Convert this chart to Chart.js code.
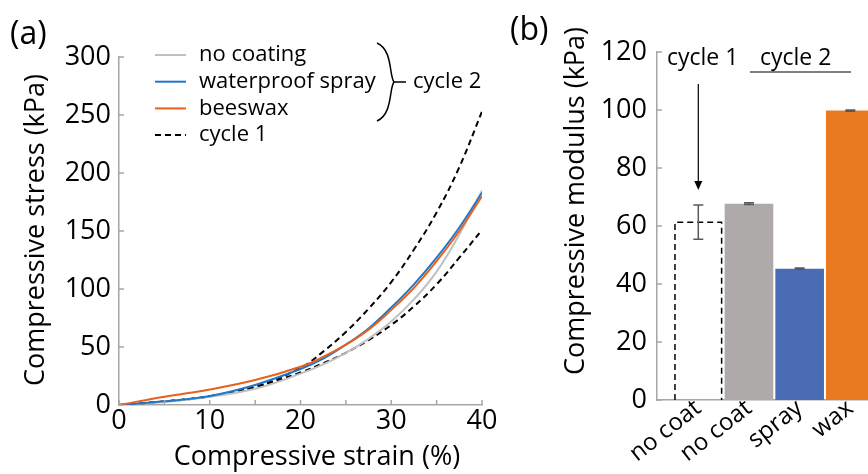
<!DOCTYPE html>
<html>
<head>
<meta charset="utf-8">
<script src="https://cdn.jsdelivr.net/npm/chart.js@4.4.0/dist/chart.umd.min.js"></script>
<style>
  html, body { margin: 0; padding: 0; background: #fff; overflow: hidden; width: 868px; height: 474px; }
  #chartA { position: absolute; left: 0; top: 0; }
  #chartB { position: absolute; left: 500px; top: 0; }
</style>
</head>
<body>
<canvas id="chartA" width="510" height="474"></canvas>
<canvas id="chartB" width="420" height="474"></canvas>
<script>
// (a) stress-strain curves
const strain      = [0, 5, 10, 15, 20, 22.5, 25, 27.5, 30, 32.5, 35, 37.5, 40];
const noCoating   = [0, 2.5, 7, 14, 27, 35, 45, 57, 72, 91, 115, 147, 185];
const spray       = [0, 3.2, 7.8, 17.3, 31, 40, 52, 66, 84, 104, 127, 153, 183];
const beeswax     = [0, 7.2, 13.4, 21.5, 33, 41.5, 52, 65, 82, 101, 124, 150, 180];
const cycle1Upper = [0, 3, 7.5, 15.5, 32, 46, 63, 83, 106, 134, 166, 205, 253];
const cycle1Lower = [0, 3, 7.5, 15.5, 28, 36, 45, 56, 69, 85, 104, 127, 151];

// (b) compressive modulus
const modulusLabels = ['no coat', 'no coat', 'spray', 'wax'];
const modulus       = [61.3, 67.7, 45.3, 99.8];
const modulusErr    = [5.9, 0.3, 0.2, 0.2];

const FONT = 'Open Sans';
const AXIS = '#a6a6a6';

function pts(xs, ys) {
  return xs.map((x, i) => ({ x: x, y: ys[i] }));
}

// keep the plot area fixed, no room reserved for edge labels
function noEdgePad(s) {
  s.paddingLeft = 0;
  s.paddingRight = 0;
}

// short tick marks drawn inside the plot
function innerTicks(chart, axis, step, len) {
  const s = chart.scales[axis];
  const ctx = chart.ctx;
  ctx.save();
  ctx.strokeStyle = AXIS;
  ctx.lineWidth = 1.5;
  ctx.beginPath();
  for (let v = Math.max(s.min, 0); v <= s.max + 1e-9; v += step) {
    const p = s.getPixelForValue(v);
    if (axis === 'x') {
      ctx.moveTo(p, s.top); ctx.lineTo(p, s.top - len);
    } else {
      ctx.moveTo(s.right, p); ctx.lineTo(s.right + len, p);
    }
  }
  ctx.stroke();
  ctx.restore();
}

function text(ctx, str, x, y, size, align, rot) {
  ctx.save();
  ctx.font = size + 'px "' + FONT + '"';
  ctx.fillStyle = '#000';
  ctx.textAlign = align || 'left';
  ctx.textBaseline = 'middle';
  ctx.translate(x, y);
  if (rot) ctx.rotate(rot);
  ctx.fillText(str, 0, 0);
  ctx.restore();
}

const decorA = {
  id: 'decorA',
  afterDraw(chart) {
    const ctx = chart.ctx;
    innerTicks(chart, 'x', 5, 5);
    innerTicks(chart, 'y', 50, 5);
    text(ctx, '(a)', 10, 35, 32);
    text(ctx, 'Compressive stress (kPa)', 36, 230, 27, 'center', -Math.PI / 2);
    text(ctx, 'Compressive strain (%)', 317, 457, 27, 'center');

    // legend
    const rows = [
      ['no coating', '#c0c0c0', []],
      ['waterproof spray', '#1f77c9', []],
      ['beeswax', '#e8601c', []],
      ['cycle 1', '#000', [6, 4]]
    ];
    rows.forEach((r, i) => {
      const y = 55 + i * 26.7;
      ctx.save();
      ctx.strokeStyle = r[1];
      ctx.lineWidth = 2;
      ctx.setLineDash(r[2]);
      ctx.beginPath();
      ctx.moveTo(155, y); ctx.lineTo(186, y);
      ctx.stroke();
      ctx.restore();
      text(ctx, r[0], 199, y, 22);
    });

    // brace
    ctx.save();
    ctx.strokeStyle = '#000';
    ctx.lineWidth = 1.5;
    ctx.beginPath();
    ctx.moveTo(377, 43);
    ctx.bezierCurveTo(393, 50, 389, 76, 394, 82);
    ctx.bezierCurveTo(389, 88, 393, 114, 377, 121);
    ctx.moveTo(394, 82); ctx.lineTo(406, 82);
    ctx.stroke();
    ctx.restore();
    text(ctx, 'cycle 2', 413, 82, 22);
  }
};

new Chart(document.getElementById('chartA'), {
  type: 'line',
  data: {
    datasets: [
      { label: 'beeswax', data: pts(strain, beeswax), borderColor: '#e8601c' },
      { label: 'waterproof spray', data: pts(strain, spray), borderColor: '#1f77c9' },
      { label: 'no coating', data: pts(strain, noCoating), borderColor: '#c0c0c0' },
      { label: 'cycle 1', data: pts(strain, cycle1Upper), borderColor: '#000', borderDash: [6, 4] },
      { label: 'cycle 1', data: pts(strain, cycle1Lower), borderColor: '#000', borderDash: [6, 4] }
    ]
  },
  options: {
    responsive: false,
    animation: false,
    elements: {
      point: { radius: 0 },
      line: { borderWidth: 2, tension: 0.4, fill: false }
    },
    layout: { padding: { left: 0, right: 28, top: 57, bottom: 0 } },
    plugins: { legend: { display: false }, tooltip: { enabled: false } },
    scales: {
      x: {
        type: 'linear', min: 0, max: 40,
        afterFit: s => { s.height = 69; noEdgePad(s); },
        ticks: { stepSize: 10, color: '#000', font: { family: FONT, size: 27 }, padding: 0, maxRotation: 0 },
        grid: { display: false, drawTicks: false },
        border: { color: AXIS, width: 1.5 }
      },
      y: {
        min: 0, max: 300,
        afterFit: s => { s.width = 119; },
        ticks: { stepSize: 50, color: '#000', font: { family: FONT, size: 27 }, padding: 8 },
        grid: { display: false, drawTicks: false },
        border: { color: AXIS, width: 1.5 }
      }
    }
  },
  plugins: [decorA]
});

const decorB = {
  id: 'decorB',
  afterDatasetsDraw(chart) {
    const ctx = chart.ctx;
    const ys = chart.scales.y;
    const bars = chart.getDatasetMeta(0).data;

    // dashed outline for the cycle 1 bar
    const b = bars[0];
    const half = b.width / 2;
    ctx.save();
    ctx.strokeStyle = '#000';
    ctx.lineWidth = 1.5;
    ctx.setLineDash([6, 4]);
    ctx.beginPath();
    ctx.moveTo(b.x - half + 1, b.base);
    ctx.lineTo(b.x - half + 1, b.y);
    ctx.lineTo(b.x + half - 1, b.y);
    ctx.lineTo(b.x + half - 1, b.base);
    ctx.stroke();
    ctx.restore();

    // error bars
    ctx.save();
    ctx.strokeStyle = '#595959';
    ctx.lineWidth = 1.5;
    bars.forEach((bar, i) => {
      const top = ys.getPixelForValue(modulus[i] + modulusErr[i]);
      const bot = ys.getPixelForValue(modulus[i] - modulusErr[i]);
      ctx.beginPath();
      ctx.moveTo(bar.x, top); ctx.lineTo(bar.x, bot);
      ctx.moveTo(bar.x - 5, top); ctx.lineTo(bar.x + 5, top);
      ctx.moveTo(bar.x - 5, bot); ctx.lineTo(bar.x + 5, bot);
      ctx.stroke();
    });
    ctx.restore();
  },
  afterDraw(chart) {
    const ctx = chart.ctx;
    innerTicks(chart, 'y', 20, 5);
    text(ctx, '(b)', 10, 31, 32);
    text(ctx, 'Compressive modulus (kPa)', 76, 201, 27, 'center', -Math.PI / 2);
    text(ctx, 'cycle 1', 167, 58, 23);
    text(ctx, 'cycle 2', 260, 58, 23);

    ctx.save();
    ctx.strokeStyle = '#000';
    ctx.fillStyle = '#000';
    ctx.lineWidth = 1.2;
    ctx.beginPath();
    ctx.moveTo(250, 72); ctx.lineTo(351, 72);
    const ax = chart.scales.x.getPixelForValue(0);
    ctx.moveTo(ax, 84); ctx.lineTo(ax, 182);
    ctx.stroke();
    ctx.beginPath();
    ctx.moveTo(ax - 4, 181); ctx.lineTo(ax + 4, 181); ctx.lineTo(ax, 190);
    ctx.closePath();
    ctx.fill();
    ctx.restore();
  }
};

new Chart(document.getElementById('chartB'), {
  type: 'bar',
  data: {
    datasets: [{
      data: pts([0, 1, 2, 3], modulus),
      backgroundColor: ['rgba(0,0,0,0)', '#aeaaaa', '#4a6cb5', '#e97a21'],
      barPercentage: 0.96,
      categoryPercentage: 1
    }]
  },
  options: {
    responsive: false,
    animation: false,
    layout: { padding: { left: 0, right: 19, top: 52, bottom: 0 } },
    plugins: { legend: { display: false }, tooltip: { enabled: false } },
    scales: {
      x: {
        type: 'linear', min: -0.815, max: 4, offset: false,
        afterFit: s => { s.height = 74; noEdgePad(s); },
        afterBuildTicks: s => { s.ticks = [0, 1, 2, 3].map(v => ({ value: v })); },
        ticks: {
          callback: v => modulusLabels[v],
          minRotation: 38, maxRotation: 38, autoSkip: false,
          color: '#000', font: { family: FONT, size: 24 }, padding: -6
        },
        grid: { display: false, drawTicks: false, offset: false },
        border: { color: AXIS, width: 1.5 }
      },
      y: {
        min: 0, max: 120,
        afterFit: s => { s.width = 157; },
        ticks: { stepSize: 20, color: '#000', font: { family: FONT, size: 27 }, padding: 10 },
        grid: { display: false, drawTicks: false },
        border: { color: AXIS, width: 1.5 }
      }
    }
  },
  plugins: [decorB]
});
</script>
</body>
</html>
